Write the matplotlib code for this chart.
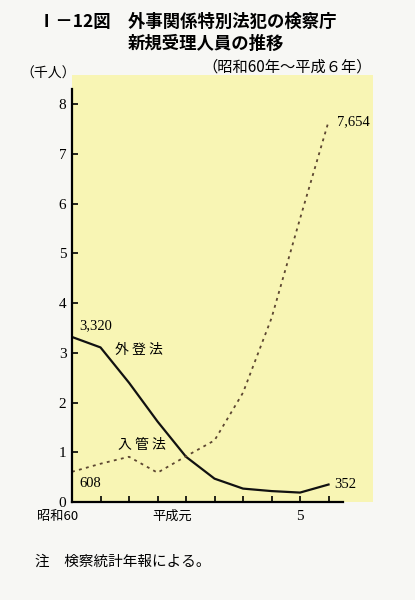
"""
外事関係特別法犯の検察庁新規受理人員の推移 (昭和60年～平成6年)
"""

import matplotlib
matplotlib.use("Agg")
import matplotlib.pyplot as plt

JP = ["Noto Sans CJK JP", "DejaVu Sans"]
NUM = ["Liberation Serif", "DejaVu Serif"]

# 昭和60年 (index 0) ... 平成6年 (index 9), unit: 千人
years = list(range(10))
gaitoho = [3.320, 3.11, 2.40, 1.62, 0.91, 0.47, 0.27, 0.22, 0.19, 0.352]
nyukanho = [0.608, 0.77, 0.91, 0.59, 0.92, 1.24, 2.20, 3.70, 5.70, 7.654]

y_ticks = [0, 1, 2, 3, 4, 5, 6, 7, 8]

BG = "#f7f7f4"
PANEL = "#f8f5b4"

fig = plt.figure(figsize=(4.15, 6.0), dpi=100, facecolor=BG)
ax = fig.add_axes([0.1735, 0.1633, 0.7253, 0.7117])
ax.set_facecolor(PANEL)

ax.plot(years, gaitoho, color="#111111", linewidth=1.6, solid_joinstyle="round")
ax.plot(years, nyukanho, color="#5c4631", linewidth=1.3, linestyle=(0, (1.6, 2.4)))

ax.set_xlim(0, 10.56)
ax.set_ylim(0, 8.59)
for s in ["top", "right"]:
    ax.spines[s].set_visible(False)
ax.spines["left"].set_bounds(0, 8.3)
ax.spines["bottom"].set_bounds(0, 9.5)
ax.spines["left"].set_linewidth(1.6)
ax.spines["bottom"].set_linewidth(1.6)

ax.set_yticks(y_ticks)
ax.set_yticklabels([str(v) for v in y_ticks], fontfamily=NUM, fontsize=11)
ax.set_xticks(years)
ax.set_xticklabels([])
ax.tick_params(axis="both", direction="in", length=4, width=1.2, pad=4)

# x labels (placed slightly left of tick as in the original)
ax.text(-0.5, -0.16, "昭和60", ha="center", va="top", fontfamily=JP, fontsize=9.5)
ax.text(3.5, -0.16, "平成元", ha="center", va="top", fontfamily=JP, fontsize=9.5)
ax.text(8, -0.16, "5", ha="center", va="top", fontfamily=NUM, fontsize=11)

# annotations
ax.text(0.25, gaitoho[0] + 0.1, "3,320", fontfamily=NUM, fontsize=10.5, va="bottom")
ax.text(1.5, 3.05, "外 登 法", fontfamily=JP, fontsize=10, va="center")
ax.text(1.6, 1.15, "入 管 法", fontfamily=JP, fontsize=10, va="center")
ax.text(0.25, 0.38, "608", fontfamily=NUM, fontsize=10.5, va="center")
ax.text(9.2, 0.35, "352", fontfamily=NUM, fontsize=10.5, va="center")
ax.text(9.3, 7.65, "7,654", fontfamily=NUM, fontsize=10.5, va="center")

# titles
fig.text(38 / 415, 1 - 22 / 600, "Ⅰ－12図　外事関係特別法犯の検察庁", fontfamily=JP,
         fontsize=12.5, fontweight="bold", va="center", ha="left")
fig.text(128 / 415, 1 - 44 / 600, "新規受理人員の推移", fontfamily=JP,
         fontsize=12.5, fontweight="bold", va="center", ha="left")
fig.text(372 / 415, 1 - 67 / 600, "（昭和60年～平成６年）", fontfamily=JP,
         fontsize=11, va="center", ha="right")
fig.text(20 / 415, 1 - 74 / 600, "（千人）", fontfamily=JP,
         fontsize=10, va="center", ha="left")
fig.text(35 / 415, 1 - 562 / 600, "注　検察統計年報による。", fontfamily=JP,
         fontsize=10.5, va="center", ha="left")

fig.savefig("out.png", dpi=100, facecolor=BG)
